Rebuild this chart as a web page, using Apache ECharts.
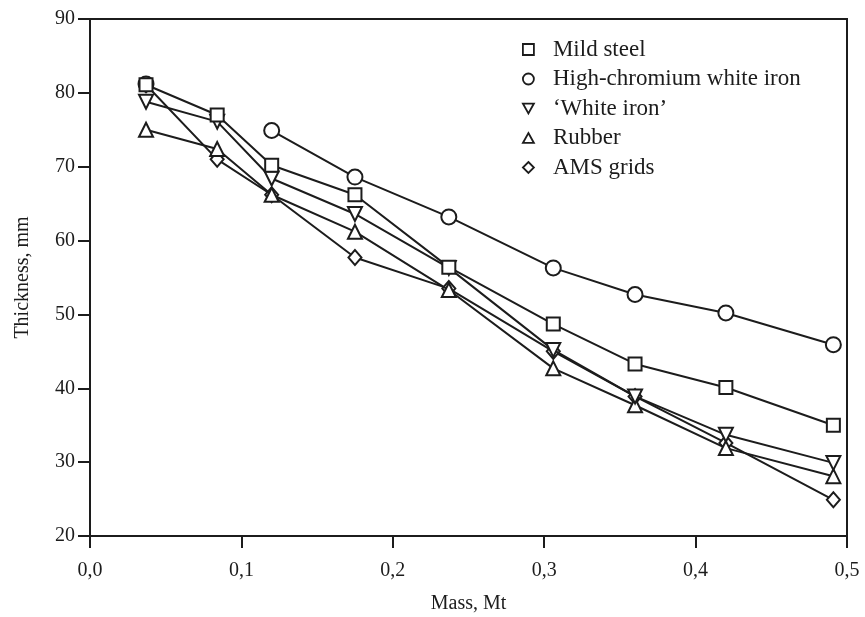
<!DOCTYPE html>
<html>
<head>
<meta charset="UTF-8">
<title>Thickness vs mass</title>
<script src="https://cdn.jsdelivr.net/npm/echarts@6/dist/echarts.min.js"></script>
<style>
  html, body { margin: 0; padding: 0; background: #fff; }
  #main { width: 865px; height: 617px; }
</style>
</head>
<body>
<div id="main"></div>
<script>
// mass, Mt (shared x positions)
var mass = [0.037, 0.084, 0.12, 0.175, 0.237, 0.306, 0.36, 0.42, 0.491];

// thickness, mm
var mildSteel  = [81.1, 77.0, 70.2, 66.2, 56.4, 48.7, 43.3, 40.1, 35.0];
var highCr     = [81.2, null, 74.9, 68.6, 63.2, 56.3, 52.7, 50.2, 45.9];
var whiteIron  = [78.8, 76.1, 68.4, 63.6, 56.3, 45.2, 38.9, 33.7, 29.9];
var rubber     = [75.0, 72.4, 66.2, 61.2, 53.3, 42.7, 37.7, 31.9, 28.1];
var amsGrids   = [81.1, 71.0, 66.2, 57.7, 53.5, 45.0, 38.9, 32.6, 24.9];

var names = ['Mild steel', 'High-chromium white iron', '\u2018White iron\u2019', 'Rubber', 'AMS grids'];

var ink = '#1c1c1c';
var serif = 'Liberation Serif';

function pts(ys) {
  return mass.map(function (x, i) { return [x, ys[i] == null ? '-' : ys[i]]; });
}

function line(name, ys, symbol, size, rotate, z) {
  return {
    name: name,
    type: 'line',
    z: z,
    data: pts(ys),
    symbol: symbol,
    symbolSize: size,
    symbolRotate: rotate || 0,
    showAllSymbol: true,
    connectNulls: false,
    lineStyle: { color: ink, width: 2 },
    itemStyle: { color: '#fff', borderColor: ink, borderWidth: 2 },
    emphasis: { disabled: true }
  };
}

var myChart = echarts.init(document.getElementById('main'));

var option = {
  animation: false,
  backgroundColor: '#fff',
  grid: {
    left: 90, right: 18, top: 19, bottom: 81,
    containLabel: false,
    outerBoundsMode: 'none',
    show: true, borderColor: ink, borderWidth: 2, backgroundColor: 'transparent'
  },
  legend: {
    orient: 'vertical',
    left: 517, top: 33,
    itemWidth: 11, itemHeight: 11,
    itemGap: 6.5,
    textStyle: {
      fontFamily: serif, fontSize: 23, color: ink, lineHeight: 22,
      padding: [0, 0, 0, 14]
    },
    itemStyle: { color: '#fff', borderColor: ink, borderWidth: 1.8 },
    data: [
      { name: names[0], icon: 'rect' },
      { name: names[1], icon: 'circle' },
      { name: names[2], icon: 'path://M0,0L10,0L5,9Z' },
      { name: names[3], icon: 'path://M5,0L10,9L0,9Z' },
      { name: names[4], icon: 'diamond' }
    ]
  },
  xAxis: {
    type: 'value',
    min: 0, max: 0.5, interval: 0.1,
    name: 'Mass, Mt',
    nameLocation: 'middle',
    nameGap: 58,
    nameTextStyle: { fontFamily: serif, fontSize: 20, color: ink },
    axisLine: { lineStyle: { color: ink, width: 2 } },
    axisTick: { inside: false, length: 12, lineStyle: { color: ink, width: 2 } },
    axisLabel: {
      margin: 25,
      fontFamily: serif, fontSize: 20, color: ink,
      formatter: function (v) { return v.toFixed(1).replace('.', ','); }
    },
    splitLine: { show: false }
  },
  yAxis: {
    type: 'value',
    min: 20, max: 90, interval: 10,
    name: 'Thickness, mm',
    nameLocation: 'middle',
    nameRotate: 90,
    nameGap: 57,
    nameTextStyle: { fontFamily: serif, fontSize: 20, color: ink },
    axisLine: { lineStyle: { color: ink, width: 2 } },
    axisTick: { inside: false, length: 12, lineStyle: { color: ink, width: 2 } },
    axisLabel: { margin: 15, fontFamily: serif, fontSize: 20, color: ink },
    splitLine: { show: false }
  },
  series: [
    line(names[4], amsGrids, 'diamond', [13, 15], 0, 2),
    line(names[3], rubber, 'triangle', 14, 0, 3),
    line(names[2], whiteIron, 'triangle', 14, 180, 4),
    line(names[1], highCr, 'circle', 15, 0, 5),
    line(names[0], mildSteel, 'rect', 13, 0, 6)
  ]
};

myChart.setOption(option);
</script>
</body>
</html>
